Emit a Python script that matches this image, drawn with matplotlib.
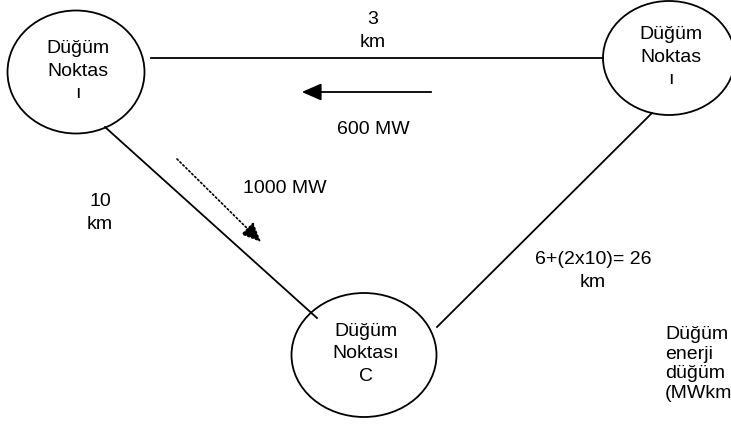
import matplotlib.pyplot as plt
from matplotlib.patches import Ellipse, FancyArrowPatch

plt.rcParams['font.family'] = ['Liberation Sans', 'DejaVu Sans']

# node labels and pixel-ish positions on a 731x428 canvas
node_labels = ["Düğüm\nNoktas\nı", "Düğüm\nNoktas\nı", "Düğüm\nNoktası\nC"]
node_x = [76, 669, 364]
node_y = [72, 58, 355]
node_w = [137, 132, 145]
node_h = [123, 114, 124]

# edges between circles
edge_x = [(151, 603), (105, 317), (652, 437)]
edge_y = [(58, 58), (127, 318), (113, 327)]

# texts
edge_labels = ["3\nkm", "10\nkm", "6+(2x10)= 26\nkm", "600 MW", "1000 MW"]
label_x = [373, 100, 593, 373, 243]
label_y = [31, 213, 271, 130, 188]
label_ha = ["center", "center", "center", "center", "left"]

note_text = "Düğüm\nenerji\ndüğüm\n(MWkm)"

fig = plt.figure(figsize=(7.31, 4.28), dpi=100)
ax = fig.add_axes([0, 0, 1, 1])
ax.set_xlim(0, 731)
ax.set_ylim(428, 0)
ax.axis('off')

for lab, x, y, w, h in zip(node_labels, node_x, node_y, node_w, node_h):
    ax.add_patch(Ellipse((x, y), w, h, fill=False, lw=1.3, ec='black'))
    ax.text(x + 2, y - 1, lab, ha='center', va='center', fontsize=14, linespacing=1.4)

for xs, ys in zip(edge_x, edge_y):
    ax.plot(xs, ys, color='black', lw=1.3)

for t, x, y, ha in zip(edge_labels, label_x, label_y, label_ha):
    ax.text(x, y, t, ha=ha, va='center', fontsize=14, linespacing=1.4)

# flow arrows
ax.add_patch(FancyArrowPatch((434, 92), (299, 92), arrowstyle='-|>,head_length=8,head_width=3.5',
                             mutation_scale=1.5, color='black', lw=1.3))
ax.add_patch(FancyArrowPatch((175, 157), (263, 244), arrowstyle='-|>,head_length=8,head_width=3.5',
                             mutation_scale=1.5, color='black', lw=1.2, linestyle=(0, (1, 1.5))))

# side note, cut by the right edge as in the source
ax.text(665, 364, note_text, ha='left', va='center', fontsize=14, linespacing=1.2)

fig.savefig('out.png', dpi=100)
